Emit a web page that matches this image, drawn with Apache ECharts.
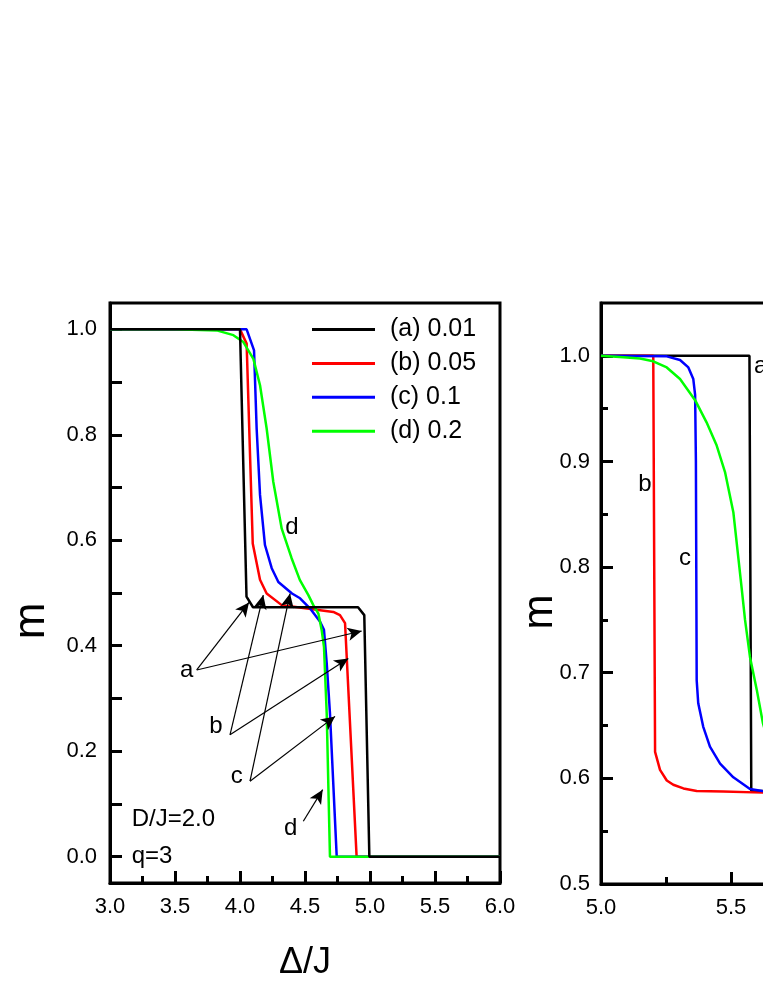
<!DOCTYPE html>
<html><head><meta charset="utf-8">
<script src="https://cdn.jsdelivr.net/npm/echarts@6/dist/echarts.min.js"></script>
<style>html,body{margin:0;padding:0;background:#fff;overflow:hidden;width:763px;height:987px}#c{width:1010px;height:987px}</style>
</head><body><div id="c"></div>
<script>
// ---- data ----
const seriesNames = ['(a) 0.01', '(b) 0.05', '(c) 0.1', '(d) 0.2'];
const seriesColors = ['#000000', '#ff0000', '#0000ff', '#00ff00'];

// left panel: m vs Delta/J (3.0 - 6.0)
const leftA = [[3.0,1.0],[4.0,1.0],[4.05,0.493],[4.10,0.473],[4.908,0.473],[4.956,0.458],[4.995,0.0],[6.0,0.0]];
const leftB = [[3.0,1.0],[4.0,1.0],[4.051,0.973],[4.098,0.594],[4.154,0.525],[4.205,0.499],[4.321,0.477],[4.385,0.475],[4.718,0.464],[4.769,0.458],[4.808,0.443],[4.897,0.0],[6.0,0.0]];
const leftC = [[3.0,1.0],[4.051,1.0],[4.108,0.960],[4.128,0.812],[4.154,0.686],[4.192,0.591],[4.244,0.547],[4.295,0.521],[4.40,0.499],[4.462,0.490],[4.538,0.471],[4.615,0.446],[4.646,0.430],[4.667,0.367],[4.692,0.272],[4.744,0.0],[6.0,0.0]];
const leftD = [[3.0,1.0],[3.5,1.0],[3.82,0.998],[3.949,0.989],[4.026,0.976],[4.103,0.944],[4.154,0.894],[4.205,0.812],[4.256,0.711],[4.321,0.622],[4.397,0.566],[4.46,0.525],[4.526,0.496],[4.564,0.477],[4.603,0.461],[4.628,0.430],[4.646,0.398],[4.667,0.272],[4.692,0.0],[6.0,0.0]];

// right panel: zoom 5.0 - 6.5
const rightA = [[5.0,1.0],[5.571,1.0],[5.578,0.588],[6.5,0.588]];
const rightB = [[5.0,1.0],[5.201,1.0],[5.208,0.625],[5.227,0.608],[5.253,0.598],[5.278,0.594],[5.317,0.5905],[5.368,0.588],[5.47,0.5875],[5.623,0.5865],[6.5,0.5865]];
const rightC = [[5.0,1.0],[5.253,0.9995],[5.304,0.996],[5.336,0.989],[5.355,0.978],[5.362,0.963],[5.365,0.9],[5.368,0.693],[5.374,0.671],[5.393,0.649],[5.419,0.630],[5.458,0.614],[5.509,0.601],[5.573,0.590],[5.62,0.588],[6.5,0.587]];
const rightD = [[5.0,1.0],[5.086,0.9986],[5.15,0.9974],[5.201,0.9948],[5.253,0.989],[5.304,0.978],[5.362,0.958],[5.406,0.937],[5.445,0.915],[5.477,0.890],[5.509,0.852],[5.541,0.780],[5.554,0.750],[5.573,0.715],[5.599,0.684],[5.623,0.652],[5.66,0.62],[5.72,0.60],[5.8,0.592],[6.0,0.589],[6.5,0.588]];

// tick values
const leftXTicks = [3.0, 6.0, 0.5];               // min, max, interval
const leftYLabels = [0.0, 0.2, 0.4, 0.6, 0.8, 1.0];
const leftYTicks = [0.0,0.1,0.2,0.3,0.4,0.5,0.6,0.7,0.8,0.9,1.0];
const rightXTicks = [5.0, 6.5, 0.5];
const rightYLabels = [0.5, 0.6, 0.7, 0.8, 0.9, 1.0];
const rightYMinor = [0.55, 0.65, 0.75, 0.85, 0.95];

// annotations (data coordinates)
const leftNotes = [
  {name:'d', value:[4.40,0.625]},
  {name:'a', value:[3.59,0.354]},
  {name:'b', value:[3.815,0.247]},
  {name:'c', value:[3.975,0.152]},
  {name:'d', value:[4.39,0.054]}
];
const leftTextNotes = [
  {name:'D/J=2.0', value:[3.167,0.070]},
  {name:'q=3', value:[3.167,0.0]}
];
const leftArrows = [
  [[3.667,0.354],[4.069,0.482]],
  [[3.667,0.354],[4.936,0.428]],
  [[3.923,0.231],[4.179,0.496]],
  [[3.923,0.231],[4.833,0.376]],
  [[4.077,0.143],[4.385,0.499]],
  [[4.077,0.143],[4.731,0.266]],
  [[4.487,0.067],[4.636,0.127]]
];
const rightNotes = [
  {name:'a', value:[5.588,0.99]},
  {name:'b', value:[5.169,0.878]},
  {name:'c', value:[5.323,0.808]}
];

// ---- chart ----
const FONT = "'Liberation Sans', Arial, Helvetica, sans-serif";
const chart = echarts.init(document.getElementById('c'), null, {renderer:'canvas'});
const black = '#000';

function xAxisCfg(gi, t) {
  return {
    gridIndex: gi, type:'value', min:t[0], max:t[1], interval:t[2],
    axisLine:{onZero:false, lineStyle:{color:black, width:3}},
    axisTick:{inside:true, length:12, lineStyle:{color:black, width:3}},
    minorTick:{show:true, splitNumber:2, length:7, lineStyle:{color:black, width:3}},
    splitLine:{show:false}, minorSplitLine:{show:false},
    axisLabel:{color:black, fontSize:22, fontFamily:FONT, margin:13, formatter:v=>v.toFixed(1)}
  };
}

const seriesList = [];
const leftData = [leftA, leftB, leftC, leftD];
const rightData = [rightA, rightB, rightC, rightD];
leftData.forEach((d,i)=>seriesList.push({
  name:seriesNames[i], type:'line', xAxisIndex:0, yAxisIndex:0, data:d,
  symbol:'none', lineStyle:{color:seriesColors[i], width:2.5}, itemStyle:{color:seriesColors[i]},
  animation:false, silent:true, z:3+ (i===0?1:0)
}));
rightData.forEach((d,i)=>seriesList.push({
  name:seriesNames[i], type:'line', xAxisIndex:1, yAxisIndex:2, data:d,
  symbol:'none', lineStyle:{color:seriesColors[i], width:2.5}, itemStyle:{color:seriesColors[i]},
  animation:false, silent:true, clip:true
}));
const noteLabel = {show:true, position:'inside', formatter:'{b}', color:black, fontSize:24, fontFamily:FONT};
seriesList.push({
  type:'scatter', xAxisIndex:0, yAxisIndex:0, symbolSize:0, data:leftNotes, silent:true, animation:false,
  itemStyle:{opacity:1, color:black}, label:noteLabel,
  markLine:{
    silent:true, animation:false, symbol:['none','arrow'], symbolSize:[10,14],
    lineStyle:{color:black, width:1.2, type:'solid', opacity:1}, label:{show:false},
    data: leftArrows.map(a=>[{coord:a[0]},{coord:a[1]}])
  }
});
seriesList.push({
  type:'scatter', xAxisIndex:0, yAxisIndex:0, symbolSize:0, data:leftTextNotes, silent:true, animation:false,
  itemStyle:{opacity:1, color:black}, label:Object.assign({}, noteLabel, {align:'left'})
});
const rightNoteData = rightNotes.map((n,i)=> i===0 ? Object.assign({}, n, {label:{align:'left'}}) : n);
seriesList.push({
  type:'scatter', xAxisIndex:1, yAxisIndex:2, symbolSize:0, data:rightNoteData, silent:true, animation:false,
  itemStyle:{opacity:1, color:black}, label:noteLabel
});

const option = {
  backgroundColor:'#fff',
  animation:false,
  grid:[
    {left:110, top:303, width:390, height:580, show:true, borderColor:black, borderWidth:3, backgroundColor:'transparent'},
    {left:601, top:303, width:390, height:581, show:true, borderColor:black, borderWidth:3, backgroundColor:'transparent'}
  ],
  legend:{
    data:seriesNames, orient:'vertical', left:312, top:317, padding:0,
    icon:'rect', itemWidth:63, itemHeight:3, itemGap:8.9, selectedMode:false,
    textStyle:{color:black, fontSize:25, fontFamily:FONT, padding:[0,0,0,10]}
  },
  xAxis:[ xAxisCfg(0, leftXTicks), xAxisCfg(1, rightXTicks) ],
  yAxis:[
    {gridIndex:0, type:'value', min:-0.05, max:1.05, position:'left',
     axisLine:{onZero:false, lineStyle:{color:black, width:3}},
     axisTick:{inside:true, length:12, customValues:leftYTicks, lineStyle:{color:black, width:3}},
     axisLabel:{customValues:leftYLabels, color:black, fontSize:22, fontFamily:FONT, margin:13, formatter:v=>v.toFixed(1)},
     splitLine:{show:false}},
    {gridIndex:0, type:'value', min:-0.05, max:1.05, position:'right', show:false},
    {gridIndex:1, type:'value', min:0.5, max:1.05, position:'left', offset:0,
     axisLine:{onZero:false, lineStyle:{color:black, width:3}},
     axisTick:{inside:true, length:12, customValues:rightYLabels, lineStyle:{color:black, width:3}},
     axisLabel:{customValues:rightYLabels, color:black, fontSize:22, fontFamily:FONT, margin:11, formatter:v=>v.toFixed(1)},
     splitLine:{show:false}},
    {gridIndex:1, type:'value', min:0.5, max:1.05, position:'left', offset:0,
     axisLine:{show:false},
     axisTick:{inside:true, length:7, customValues:rightYMinor, lineStyle:{color:black, width:3}},
     axisLabel:{show:false}, splitLine:{show:false}}
  ],
  graphic:[
    {type:'text', x:32, y:621, rotation:Math.PI/2, style:{text:'m', font:'44px '+FONT, fill:black, align:'center', verticalAlign:'middle'}},
    {type:'text', x:540, y:612, rotation:Math.PI/2, style:{text:'m', font:'42px '+FONT, fill:black, align:'center', verticalAlign:'middle'}},
    {type:'text', x:305, y:963, style:{text:'Δ/J', font:'36px '+FONT, fill:black, align:'center', verticalAlign:'middle'}}
  ],
  series:seriesList
};
chart.setOption(option);
</script>
</body></html>
